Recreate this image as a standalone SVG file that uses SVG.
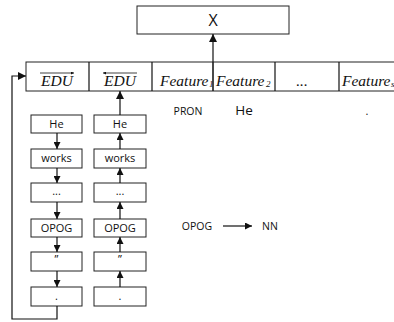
<svg xmlns="http://www.w3.org/2000/svg" width="394" height="322" viewBox="0 0 394 322">
<style>
.box{fill:#fff;stroke:#222;stroke-width:1}
.ln{fill:none;stroke:#111;stroke-width:1.2}
.lbl{font-family:"Open Sans","Noto Sans",sans-serif;font-size:11px;fill:#111;text-anchor:middle}
.ser{font-family:"Liberation Serif","Times New Roman",serif;font-style:italic;font-size:15.5px;fill:#111}
.sub{font-family:"Liberation Serif",serif;font-style:italic;font-size:9px;fill:#111}
.txt{font-family:"Open Sans","Noto Sans",sans-serif;fill:#111}
</style>
<defs>
<marker id="ah" viewBox="0 0 10 10" refX="10" refY="5" markerWidth="7" markerHeight="7" markerUnits="userSpaceOnUse" orient="auto">
<path d="M0,0 L10,5 L0,10 z" fill="#111"/>
</marker>
<marker id="ah2" viewBox="0 0 10 10" refX="10" refY="5" markerWidth="8" markerHeight="8" markerUnits="userSpaceOnUse" orient="auto">
<path d="M0,0 L10,5 L0,10 z" fill="#111"/>
</marker>
<marker id="tip" viewBox="0 0 10 10" refX="10" refY="5" markerWidth="3" markerHeight="3" markerUnits="userSpaceOnUse" orient="auto">
<path d="M0,0 L10,5 L0,10 z" fill="#111"/>
</marker>
</defs>

<g id="X">
<rect class="box" x="137" y="6" width="152" height="28"/>
<text class="txt" x="213" y="26" font-size="16" text-anchor="middle">X</text>
</g>

<g id="feature-row">
<rect class="box" x="26" y="62" width="380" height="29"/>
<line class="ln" x1="89" y1="62" x2="89" y2="91" stroke="#222"/>
<line class="ln" x1="152" y1="62" x2="152" y2="91"/>
<line class="ln" x1="213" y1="62" x2="213" y2="91"/>
<line class="ln" x1="275" y1="62" x2="275" y2="91"/>
<line class="ln" x1="339" y1="62" x2="339" y2="91"/>
<text class="ser" x="57" y="86" text-anchor="middle">EDU</text>
<line x1="40" y1="73" x2="74" y2="73" stroke="#111" stroke-width="0.8" marker-end="url(#tip)"/>
<text class="ser" x="120" y="86" text-anchor="middle">EDU</text>
<line x1="137" y1="73" x2="103" y2="73" stroke="#111" stroke-width="0.8" marker-end="url(#tip)"/>
<text class="ser" x="160" y="86">Feature</text>
<text class="sub" x="209" y="87">1</text>
<line x1="213" y1="62" x2="213" y2="91" stroke="#222" stroke-width="1"/>
<text class="ser" x="216" y="86">Feature</text>
<text class="sub" x="266" y="87">2</text>
<text class="ser" x="302" y="86" font-size="10" text-anchor="middle" font-style="normal">...</text>
<text class="ser" x="342" y="86">Feature</text>
<text class="sub" x="391" y="87">s</text>
</g>

<g id="left-col">
<rect class="box" x="31" y="115" width="51" height="18"/><text class="lbl" x="56.5" y="128">He</text>
<rect class="box" x="31" y="149" width="51" height="19"/><text class="lbl" x="56.5" y="162">works</text>
<rect class="box" x="31" y="183" width="51" height="19"/><text class="lbl" x="56.5" y="195">...</text>
<rect class="box" x="31" y="219" width="51" height="18"/><text class="lbl" x="56.5" y="232">OPOG</text>
<rect class="box" x="31" y="252" width="51" height="19"/><text class="lbl" x="56.5" y="263">”</text>
<rect class="box" x="31" y="287" width="51" height="19"/><text class="lbl" x="56.5" y="300">.</text>
</g>

<g id="right-col">
<rect class="box" x="94" y="115" width="52" height="18"/><text class="lbl" x="120" y="128">He</text>
<rect class="box" x="94" y="149" width="52" height="19"/><text class="lbl" x="120" y="162">works</text>
<rect class="box" x="94" y="183" width="52" height="19"/><text class="lbl" x="120" y="195">...</text>
<rect class="box" x="94" y="219" width="52" height="18"/><text class="lbl" x="120" y="232">OPOG</text>
<rect class="box" x="94" y="252" width="52" height="19"/><text class="lbl" x="120" y="263">”</text>
<rect class="box" x="94" y="287" width="52" height="19"/><text class="lbl" x="120" y="300">.</text>
</g>

<g id="annotations">
<text class="txt" x="188" y="115" font-size="10.5" text-anchor="middle">PRON</text>
<text class="txt" x="244" y="115" font-size="13.5" text-anchor="middle">He</text>
<text class="txt" x="367" y="115" font-size="11" text-anchor="middle">.</text>
<text class="txt" x="197" y="230" font-size="10.5" text-anchor="middle">OPOG</text>
<text class="txt" x="270" y="230" font-size="10.5" text-anchor="middle">NN</text>
</g>

<g id="connectors">
<line class="ln" x1="213" y1="62" x2="213" y2="34" marker-end="url(#ah2)"/>
<path class="ln" d="M57,306 V319 H12 V76 H26" marker-end="url(#ah2)"/>
<line class="ln" x1="57" y1="133" x2="57" y2="149" marker-end="url(#ah)"/>
<line class="ln" x1="57" y1="168" x2="57" y2="183" marker-end="url(#ah)"/>
<line class="ln" x1="57" y1="202" x2="57" y2="219" marker-end="url(#ah)"/>
<line class="ln" x1="57" y1="237" x2="57" y2="252" marker-end="url(#ah)"/>
<line class="ln" x1="57" y1="271" x2="57" y2="287" marker-end="url(#ah)"/>
<line class="ln" x1="120" y1="287" x2="120" y2="271" marker-end="url(#ah)"/>
<line class="ln" x1="120" y1="252" x2="120" y2="237" marker-end="url(#ah)"/>
<line class="ln" x1="120" y1="219" x2="120" y2="202" marker-end="url(#ah)"/>
<line class="ln" x1="120" y1="183" x2="120" y2="168" marker-end="url(#ah)"/>
<line class="ln" x1="120" y1="149" x2="120" y2="133" marker-end="url(#ah)"/>
<line class="ln" x1="120" y1="115" x2="120" y2="91" marker-end="url(#ah2)"/>
<line class="ln" x1="223" y1="226" x2="252" y2="226" marker-end="url(#ah)"/>
</g>
</svg>
